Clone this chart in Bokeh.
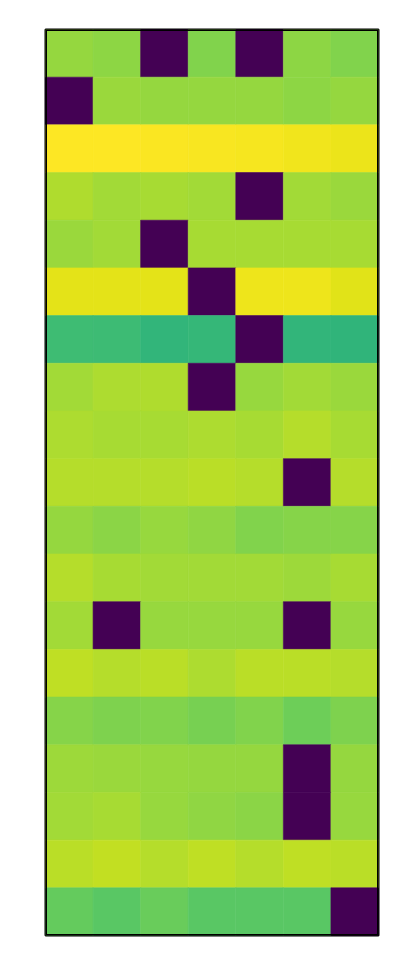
from bokeh.plotting import figure
from bokeh.models import ColumnDataSource, Range1d
from bokeh.transform import linear_cmap
from bokeh.palettes import Viridis256
from bokeh.embed import file_html
from bokeh.resources import INLINE

# rows from top to bottom, 7 columns each
row01 = [0.84, 0.83, 0.00, 0.81, 0.00, 0.83, 0.81]
row02 = [0.00, 0.85, 0.84, 0.84, 0.84, 0.83, 0.84]
row03 = [1.00, 1.00, 0.995, 0.99, 0.985, 0.98, 0.97]
row04 = [0.88, 0.86, 0.87, 0.86, 0.00, 0.86, 0.85]
row05 = [0.85, 0.86, 0.00, 0.87, 0.87, 0.87, 0.87]
row06 = [0.96, 0.96, 0.96, 0.00, 0.975, 0.975, 0.955]
row07 = [0.69, 0.685, 0.66, 0.667, 0.00, 0.66, 0.655]
row08 = [0.86, 0.875, 0.88, 0.00, 0.845, 0.86, 0.85]
row09 = [0.875, 0.87, 0.87, 0.875, 0.87, 0.89, 0.87]
row10 = [0.89, 0.89, 0.89, 0.895, 0.89, 0.00, 0.89]
row11 = [0.84, 0.825, 0.845, 0.835, 0.81, 0.82, 0.82]
row12 = [0.89, 0.87, 0.86, 0.86, 0.86, 0.855, 0.87]
row13 = [0.86, 0.00, 0.845, 0.845, 0.845, 0.00, 0.845]
row14 = [0.905, 0.89, 0.895, 0.875, 0.895, 0.895, 0.89]
row15 = [0.82, 0.805, 0.81, 0.795, 0.81, 0.78, 0.805]
row16 = [0.855, 0.85, 0.845, 0.84, 0.84, 0.00, 0.84]
row17 = [0.86, 0.87, 0.845, 0.835, 0.825, 0.00, 0.845]
row18 = [0.895, 0.91, 0.89, 0.905, 0.89, 0.905, 0.895]
row19 = [0.765, 0.745, 0.77, 0.745, 0.745, 0.745, 0.00]

rows = [row01, row02, row03, row04, row05, row06, row07, row08, row09, row10,
        row11, row12, row13, row14, row15, row16, row17, row18, row19]

n_rows = len(rows)
n_cols = len(rows[0])

xs, ys, vals = [], [], []
for i, r in enumerate(rows):
    for j, v in enumerate(r):
        xs.append(j + 0.5)
        ys.append(n_rows - i - 0.5)
        vals.append(v)

src = ColumnDataSource(dict(x=xs, y=ys, v=vals))

cmap = linear_cmap("v", Viridis256, 0, 1)
p = figure(width=400, height=962, output_backend="svg", toolbar_location=None,
           x_range=Range1d(0, n_cols), y_range=Range1d(0, n_rows),
           min_border_left=45, min_border_right=22, min_border_top=29, min_border_bottom=27)
p.rect(x="x", y="y", width=1, height=1, source=src,
       fill_color=cmap, line_color=cmap, line_width=0.6)
# frame border drawn over the cells
p.quad(left=[0], right=[n_cols], bottom=[0], top=[n_rows],
       fill_color=None, line_color="black", line_width=3)
p.axis.visible = False
p.grid.visible = False
p.outline_line_color = "black"
p.outline_line_width = 2
p.background_fill_color = "white"

open("out.html", "w").write(file_html(p, INLINE))
